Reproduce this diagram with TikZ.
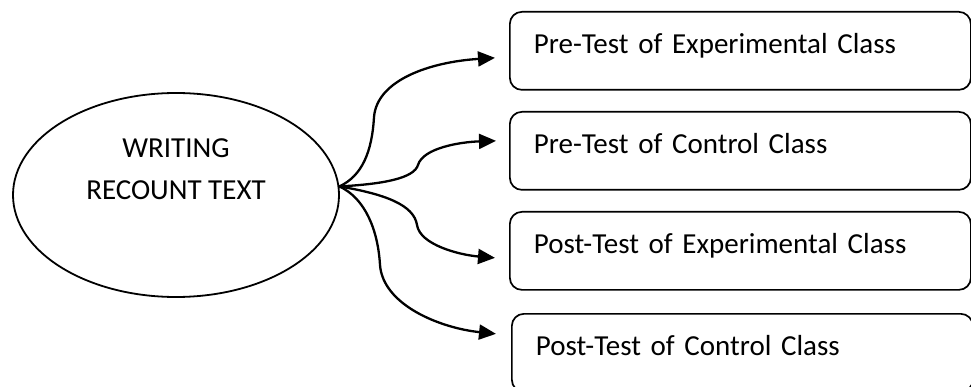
\documentclass[tikz,border=0pt]{standalone}
\usepackage{fontspec}
\setmainfont{Carlito}
\usetikzlibrary{shapes.geometric,arrows.meta}
\begin{document}
\begin{tikzpicture}[x=1pt,y=-1pt,
  boxnode/.style={draw, line width=1.7pt, rounded corners=12pt, anchor=north west,
    inner xsep=24pt, inner ysep=0pt, text width=413pt, align=left,
    text height=42pt, text depth=36pt, font=\fontsize{29}{35}\selectfont},
  conn/.style={line width=2.3pt, -{Triangle[length=17pt,width=15pt]}}]
\useasboundingbox (0,0) rectangle (971,387);
\fill[white] (0,0) rectangle (971,387);
\node[draw, ellipse, line width=1.8pt, minimum width=326pt, minimum height=204pt, inner sep=0pt] (ell) at (176,195) {};
\node[align=center, font=\fontsize{29}{42}\selectfont, inner sep=0pt] (elltext) at ([yshift=25.5pt]ell.center) {WRITING\\RECOUNT TEXT};
\node[boxnode] (b1) at (509,11) {Pre-Test of Experimental Class};
\node[boxnode] (b2) at (509,111) {Pre-Test of Control Class};
\node[boxnode] (b3) at (509,211) {Post-Test of Experimental Class};
\node[boxnode] (b4) at (511,313) {Post-Test of Control Class};
\draw[conn] (ell.3) .. controls (362,176) and (372,152) .. (374,117) .. controls (377,80) and (430,62) .. ([xshift=-14pt,yshift=-7pt]b1.west);
\draw[conn] (ell.3) .. controls (385,184) and (414,178) .. (418,165) .. controls (423,148) and (460,142) .. ([xshift=-13pt,yshift=10pt]b2.west);
\draw[conn] (ell.3) .. controls (385,194) and (414,205) .. (417,225) .. controls (420,245) and (460,255) .. ([xshift=-14pt,yshift=-7pt]b3.west);
\draw[conn] (ell.3) .. controls (365,198) and (378,230) .. (380,265) .. controls (383,305) and (440,328) .. ([xshift=-15pt,yshift=19pt]b4.west);
\end{tikzpicture}
\end{document}
